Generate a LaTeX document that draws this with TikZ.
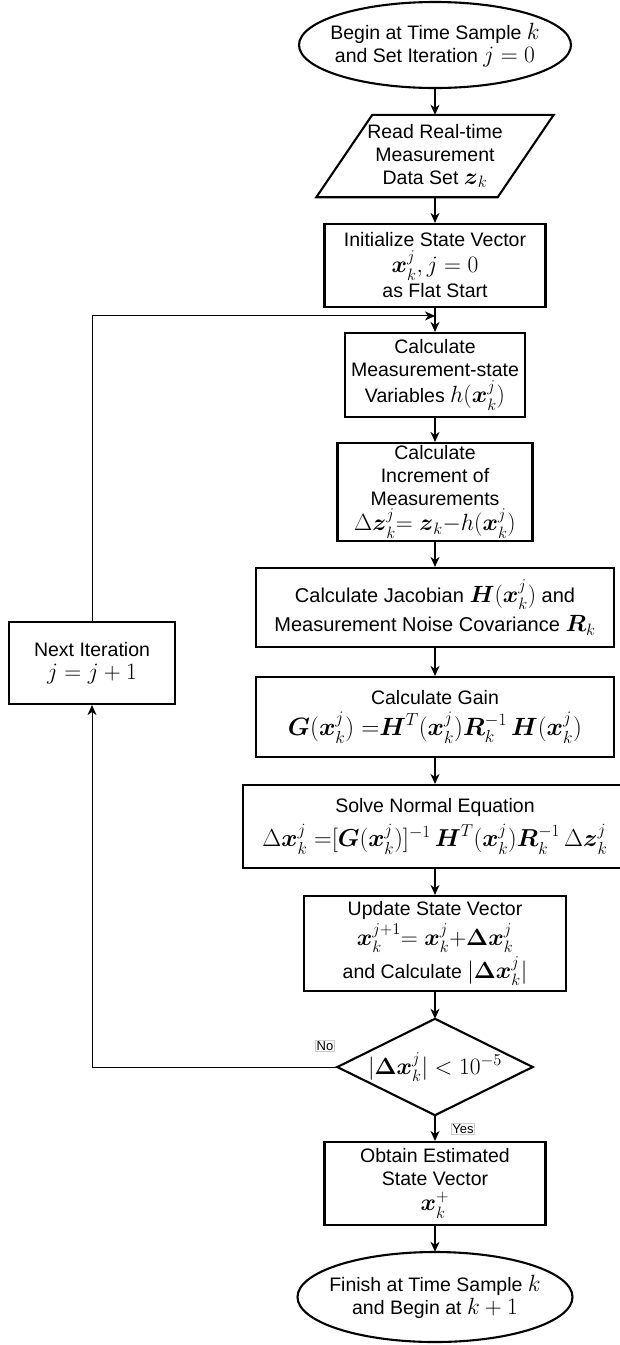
\RequirePackage{fix-cm}
\documentclass[tikz,border=0pt]{standalone}
\usepackage{amsmath}
\usepackage[no-math]{fontspec}
\setmainfont{Liberation Sans}
\usetikzlibrary{arrows.meta,calc}
\newcommand{\mth}[1]{{\fontsize{23.5}{26}\selectfont$#1$}}
\newcommand{\mths}[2]{{\fontsize{#1}{#1}\selectfont$#2$}}
\newcommand{\bxx}{\boldsymbol{x}}
\newcommand{\bdl}{\boldsymbol{\Delta}}
\tikzset{
  box/.style={draw, line width=2.1pt, align=center, inner sep=0pt, font=\fontsize{19.5}{23}\selectfont},
  plain/.style={align=center, inner sep=0pt, font=\fontsize{19.5}{23}\selectfont},
  outl/.style={line width=2.1pt},
  arr/.style={line width=1.4pt, -{Stealth[length=10pt,width=9pt,inset=3pt]}},
  fbarr/.style={line width=1pt, -{Stealth[length=10pt,width=9pt,inset=3pt]}},
  lbl/.style={draw=black!20, line width=0.5pt, inner sep=1pt, font=\fontsize{13}{14}\selectfont}
}
\begin{document}
\begin{tikzpicture}[x=1pt,y=1pt]
\useasboundingbox (0,0) rectangle (619,-1345);

\node[plain, minimum width=272, minimum height=86] (start) at (435,-45)
  {Begin at Time Sample \mth{k}\\and Set Iteration \mth{j=0}};
\draw[outl] (start.center) ellipse [x radius=136, y radius=43];

\node[plain, minimum width=237, minimum height=82] (read) at (435,-156)
  {Read Real-time\\Measurement\\Data Set \mth{\boldsymbol{z}_k}};
\draw[outl] ($(read.north west)+(56,0)$) -- (read.north east) -- ($(read.south east)-(56,0)$) -- (read.south west) -- cycle;

\node[box, minimum width=221, minimum height=83] (init) at (435,-265.5)
  {Initialize State Vector\\[3pt]\mth{\bxx_k^j, j=0}\\[2pt]as Flat Start};

\node[box, minimum width=180, minimum height=84] (calc1) at (435,-375)
  {Calculate\\Measurement-state\\[3pt]Variables \mth{h(\bxx_k^j)}};

\node[box, minimum width=195, minimum height=98] (calc2) at (435,-492)
  {Calculate\\Increment of\\Measurements\\[2pt]\mth{\Delta\boldsymbol{z}_k^j{=}\ \boldsymbol{z}_k{-}h(\bxx_k^j)}};

\node[box, minimum width=358, minimum height=79, font=\fontsize{20}{23}\selectfont] (jac) at (435,-607.5)
  {Calculate Jacobian \mth{\boldsymbol{H}(\bxx_k^j)} and\\[5pt]Measurement Noise Covariance \mth{\boldsymbol{R}_k}};

\node[box, minimum width=358, minimum height=80] (gain) at (435,-717)
  {Calculate Gain\\[6pt]\mths{25}{\boldsymbol{G}(\bxx_k^j)\ {=}\boldsymbol{H}^T(\bxx_k^j)\boldsymbol{R}_k^{-1}\,\boldsymbol{H}(\bxx_k^j)}};

\node[box, minimum width=384, minimum height=83] (solve) at (435,-826.5)
  {Solve Normal Equation\\[6pt]\mths{24.5}{\Delta\bxx_k^j\ {=}[\boldsymbol{G}(\bxx_k^j)]^{-1}\,\boldsymbol{H}^T(\bxx_k^j)\boldsymbol{R}_k^{-1}\,\Delta\boldsymbol{z}_k^j}};

\node[box, minimum width=262, minimum height=95] (update) at (435,-943.5)
  {Update State Vector\\[3pt]\mth{\bxx_k^{j+1}{=}\ \bxx_k^j{+}\bdl\bxx_k^j}\\[3pt]and Calculate \mth{|\bdl\bxx_k^j|}};

\node[plain, minimum width=195, minimum height=96] (dec) at (435,-1067)
  {\mth{|\bdl\bxx_k^j| < 10^{-5}}};
\draw[outl] (dec.north) -- (dec.east) -- (dec.south) -- (dec.west) -- cycle;

\node[box, minimum width=221, minimum height=83] (obtain) at (435,-1183.5)
  {Obtain Estimated\\State Vector\\[2pt]\mth{\bxx_k^+}};

\node[plain, minimum width=275, minimum height=90] (finish) at (435,-1297)
  {Finish at Time Sample \mth{k}\\and Begin at \mth{k+1}};
\draw[outl] (finish.center) ellipse [x radius=137.5, y radius=45];

\node[box, minimum width=166, minimum height=82] (next) at (92,-663)
  {Next Iteration\\\mth{j=j+1}};

\coordinate (merge) at ($(calc1.north)+(0,16)$);

\draw[arr] (start.south) -- (read.north);
\draw[arr] (read.south) -- (init.north);
\draw[arr] (init.south) -- (calc1.north);
\draw[arr] (calc1.south) -- (calc2.north);
\draw[arr] (calc2.south) -- (jac.north);
\draw[arr] (jac.south) -- (gain.north);
\draw[arr] (gain.south) -- (solve.north);
\draw[arr] (solve.south) -- (update.north);
\draw[arr] (update.south) -- (dec.north);
\draw[arr] (dec.south) -- (obtain.north);
\draw[arr] (obtain.south) -- (finish.north);
\draw[fbarr] (dec.west) -| (next.south);
\draw[fbarr] (next.north) |- (merge);

\node[lbl] (nolbl) at (325,-1046) {No};
\node[lbl] (yeslbl) at (463,-1129) {Yes};
\end{tikzpicture}
\end{document}
